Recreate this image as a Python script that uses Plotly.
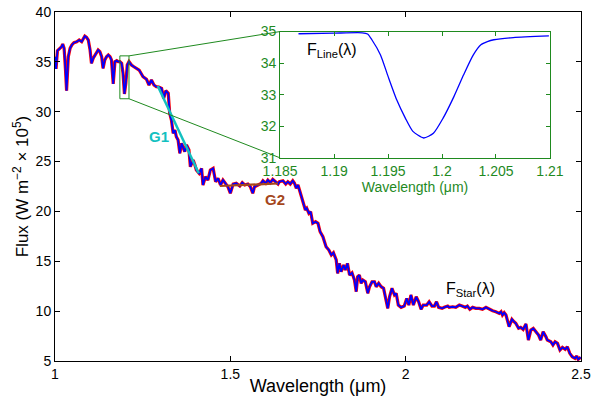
import plotly.graph_objects as go

# Main spectrum F_Star(lambda)
wavelength = [1.000,1.003,1.007,1.014,1.019,1.022,1.026,1.030,1.033,1.038,1.043,1.048,1.054,1.062,1.069,1.076,1.081,1.085,1.090,1.095,
              1.100,1.104,1.109,1.114,1.119,1.123,1.128,1.133,1.137,1.142,1.147,1.152,1.157,1.161,1.166,1.171,1.176,1.180,1.185,1.190,
              1.194,1.198,1.202,1.206,1.211,1.218,1.225,1.233,1.240,1.251,1.261,1.268,1.275,1.282,1.289,1.296,1.304,1.310,1.316,1.323,
              1.327,1.332,1.337,1.342,1.346,1.351,1.356,1.361,1.365,1.370,1.375,1.382,1.386,1.394,1.399,1.403,1.411,1.418,1.422,1.429,
              1.436,1.443,1.451,1.458,1.465,1.472,1.479,1.487,1.493,1.500,1.508,1.517,1.527,1.534,1.541,1.550,1.557,1.564,1.569,1.579,
              1.588,1.593,1.601,1.607,1.614,1.621,1.629,1.636,1.640,1.650,1.658,1.664,1.671,1.678,1.683,1.688,1.693,1.697,1.702,1.709,
              1.714,1.718,1.724,1.729,1.735,1.743,1.750,1.756,1.764,1.773,1.781,1.788,1.794,1.802,1.806,1.811,1.816,1.823,1.828,1.834,
              1.840,1.847,1.854,1.859,1.863,1.868,1.873,1.878,1.885,1.892,1.897,1.904,1.911,1.916,1.923,1.930,1.937,1.942,1.949,1.954,
              1.961,1.968,1.973,1.979,1.987,1.996,2.003,2.009,2.015,2.022,2.030,2.037,2.044,2.050,2.060,2.067,2.075,2.082,2.088,2.094,
              2.104,2.110,2.120,2.124,2.134,2.143,2.153,2.161,2.170,2.176,2.183,2.191,2.200,2.210,2.219,2.229,2.238,2.248,2.257,2.267,
              2.272,2.276,2.281,2.286,2.295,2.303,2.309,2.314,2.322,2.328,2.335,2.343,2.350,2.357,2.364,2.371,2.379,2.385,2.392,2.400,
              2.404,2.414,2.420,2.426,2.433,2.440,2.447,2.455,2.461,2.468,2.475,2.483,2.488,2.492,2.499]
flux = [35.50,34.30,36.12,36.36,36.52,36.79,36.36,34.18,32.11,35.52,36.36,36.69,36.92,37.02,37.19,37.02,37.36,37.59,37.46,37.19,
        36.19,34.85,35.36,35.69,35.86,36.19,36.02,35.52,34.35,35.19,35.52,35.69,35.52,35.19,32.78,35.02,35.12,35.02,35.02,34.85,
        33.85,31.78,32.85,34.68,35.02,34.68,34.51,34.35,34.18,33.51,33.25,32.68,33.18,32.68,32.51,32.48,32.35,31.34,32.11,31.85,
        29.84,29.17,27.83,28.16,27.49,27.16,25.83,26.83,26.49,25.99,26.66,26.16,24.48,25.16,24.65,24.15,23.82,24.32,22.65,23.48,
        23.15,24.15,24.32,22.98,23.32,22.65,23.15,22.82,22.48,21.82,22.75,22.82,22.55,22.88,22.65,22.75,22.48,21.82,22.48,22.65,
        22.82,23.08,22.82,23.15,22.88,23.22,22.98,22.75,22.98,23.08,22.75,22.98,22.75,23.08,22.82,22.32,22.65,22.15,21.47,20.81,
        20.14,20.31,19.81,19.97,18.81,18.97,18.81,17.96,17.46,16.46,16.13,15.63,15.86,15.13,13.79,14.79,13.95,14.62,14.12,14.79,
        13.62,13.85,13.12,11.95,13.45,13.62,12.79,13.12,12.95,11.79,12.45,12.95,12.95,12.45,12.79,12.45,12.29,11.44,10.28,11.44,
        12.29,11.62,11.79,10.61,10.38,10.51,11.28,10.61,11.62,10.61,11.44,10.94,10.18,10.61,10.61,10.94,10.51,10.51,10.94,10.38,
        10.28,10.38,10.51,10.38,10.44,10.38,10.61,10.51,10.38,10.51,10.18,10.38,10.28,10.28,10.18,10.38,10.18,10.04,9.94,9.78,
        9.94,9.61,9.84,9.61,8.44,9.18,8.94,8.78,8.28,8.38,8.17,8.71,7.10,8.10,8.27,7.93,7.60,7.10,7.93,7.43,
        7.10,6.93,6.60,6.93,6.77,6.10,6.37,6.17,6.43,5.77,5.43,5.27,5.50,5.16,5.37]

# Gradient fits
g1_x = [1.293, 1.410]
g1_y = [32.58, 23.82]
g2_x = [1.470, 1.636]
g2_y = [22.55, 22.80]

# Inset: F_Line(lambda)
line_x = [1.1867,1.1900,1.1926,1.1931,1.1935,1.1943,1.1950,1.1958,1.1966,1.1973,1.1983,1.1992,1.2001,1.2011,
          1.2020,1.2029,1.2036,1.2042,1.2048,1.2066,1.2099]
line_y = [34.93,34.95,34.96,34.92,34.74,34.26,33.58,32.84,32.26,31.84,31.63,31.78,32.26,32.94,
          33.63,34.26,34.58,34.68,34.74,34.81,34.86]

main_xticks = [1, 1.5, 2, 2.5]
main_yticks = [5, 10, 15, 20, 25, 30, 35, 40]
inset_xticks = [1.185, 1.19, 1.195, 1.2, 1.205, 1.21]
inset_xticklabels = ["1.185", "1.19", "1.195", "1.2", "1.205", "1.21"]
inset_yticks = [31, 32, 33, 34, 35]

zoom_box = dict(x0=1.185, x1=1.211, y0=31.3, y1=35.6)

GREEN = "#1f8a1f"
FONT = "Liberation Sans, Arial, Helvetica, sans-serif"

main_xr = [1, 2.5]
main_yr = [5, 40]
inset_dx = [0.428, 0.941]
inset_dy = [0.582, 0.944]

fig = go.Figure()
fig.add_trace(go.Scatter(x=wavelength, y=flux, mode="lines",
                         line=dict(color="#ff0000", width=3.2), hoverinfo="skip"))
fig.add_trace(go.Scatter(x=wavelength, y=flux, mode="lines",
                         line=dict(color="#0000ff", width=1.8)))
fig.add_trace(go.Scatter(x=g1_x, y=g1_y, mode="lines", line=dict(color="#13c0c0", width=2.5)))
fig.add_trace(go.Scatter(x=g2_x, y=g2_y, mode="lines", line=dict(color="#a5471c", width=2.2)))
fig.add_trace(go.Scatter(x=line_x, y=line_y, mode="lines", xaxis="x2", yaxis="y2",
                         line=dict(color="#0000ff", width=1.3, shape="spline", smoothing=0.6)))

def px(v):
    return (v - main_xr[0]) / (main_xr[1] - main_xr[0])

def py(v):
    return (v - main_yr[0]) / (main_yr[1] - main_yr[0])

shapes = [
    dict(type="rect", xref="x", yref="y", line=dict(color=GREEN, width=1), **zoom_box),
    dict(type="line", xref="paper", yref="paper", x0=px(zoom_box["x1"]), y0=py(zoom_box["y1"]),
         x1=inset_dx[0], y1=inset_dy[1], line=dict(color=GREEN, width=1)),
    dict(type="line", xref="paper", yref="paper", x0=px(zoom_box["x1"]), y0=py(zoom_box["y0"]),
         x1=inset_dx[0], y1=inset_dy[0], line=dict(color=GREEN, width=1)),
]

annotations = [
    dict(x=1.296, y=27.56, xref="x", yref="y", text="<b>G1</b>", showarrow=False,
         font=dict(color="#13c0c0", size=15, family=FONT)),
    dict(x=1.626, y=21.24, xref="x", yref="y", text="<b>G2</b>", showarrow=False,
         font=dict(color="#a5471c", size=15, family=FONT)),
    dict(x=2.108, y=12.2, xref="x", yref="y", text="F<sub>Star</sub>(λ)", showarrow=False,
         xanchor="left", font=dict(color="black", size=16, family=FONT)),
    dict(x=1.1873, y=34.4, xref="x2", yref="y2", text="F<sub>Line</sub>(λ)", showarrow=False,
         xanchor="left", font=dict(color="black", size=16, family=FONT)),
]

fig.update_layout(
    width=592, height=396,
    margin=dict(l=55, r=11, t=12, b=35),
    paper_bgcolor="white", plot_bgcolor="white",
    showlegend=False,
    font=dict(family=FONT, color="black", size=14),
    shapes=shapes, annotations=annotations,
    xaxis=dict(range=main_xr, tickvals=main_xticks, ticks="inside", ticklen=5, tickcolor="black",
               showline=True, linecolor="black", linewidth=1, mirror="ticks", showgrid=False,
               zeroline=False, tickfont=dict(size=14), automargin=False,
               title=dict(text="Wavelength (μm)", font=dict(size=18), standoff=0)),
    yaxis=dict(range=main_yr, tickvals=main_yticks, ticks="inside", ticklen=5, tickcolor="black",
               showline=True, linecolor="black", linewidth=1, mirror="ticks", showgrid=False,
               zeroline=False, tickfont=dict(size=14), automargin=False,
               title=dict(text="Flux (W m<sup>−2</sup> × 10<sup>5</sup>)", font=dict(size=17), standoff=2)),
    xaxis2=dict(domain=inset_dx, anchor="y2", range=[1.185, 1.21], tickvals=inset_xticks,
                ticktext=inset_xticklabels, ticks="inside", ticklen=4, tickcolor=GREEN,
                showline=True, linecolor=GREEN, linewidth=1, mirror="ticks", showgrid=False,
                zeroline=False, tickfont=dict(size=14, color=GREEN), automargin=False,
                title=dict(text="Wavelength (μm)", font=dict(size=14, color=GREEN), standoff=0)),
    yaxis2=dict(domain=inset_dy, anchor="x2", range=[31, 35], tickvals=inset_yticks,
                ticks="inside", ticklen=4, tickcolor=GREEN,
                showline=True, linecolor=GREEN, linewidth=1, mirror="ticks", showgrid=False,
                zeroline=False, tickfont=dict(size=14, color=GREEN), automargin=False),
)

# remove the default 8px page margin so the figure fills the window exactly
fig.write_html("out.html", config={"displayModeBar": False},
               post_script="document.body.style.margin='0';")
